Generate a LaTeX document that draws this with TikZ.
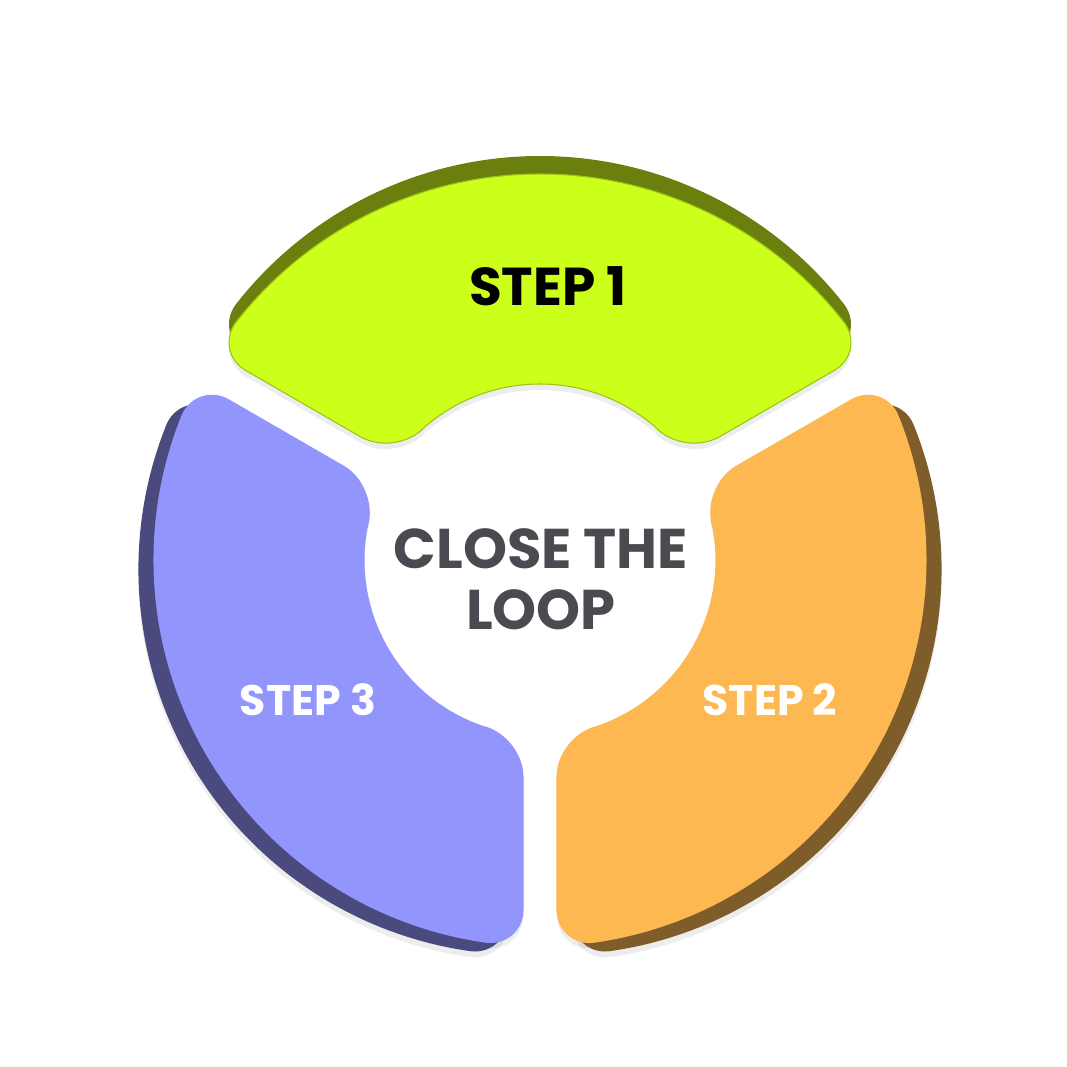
\documentclass[tikz,border=0pt]{standalone}
\usepackage{fontspec}
\setmainfont{Poppins}
\usetikzlibrary{calc}
\definecolor{limeF}{HTML}{CCFF1A}
\definecolor{limeD}{HTML}{6B7F0E}
\definecolor{limeE}{HTML}{9CC414}
\definecolor{orgF}{HTML}{FDB851}
\definecolor{orgD}{HTML}{7F5D2B}
\definecolor{purF}{HTML}{9195FC}
\definecolor{purD}{HTML}{4A4A7E}
\definecolor{txt}{HTML}{4A4B50}
\tikzset{
  softshadow/.style={fill=black, opacity=0.07},
  steplabel/.style={font=\bfseries\fontsize{32}{32}\selectfont, text=white},
  centerlabel/.style={font=\bfseries\fontsize{42}{46}\selectfont, text=txt, align=center}
}
% #1 mid angle, #2 shift, #3 path options
\newcommand\segshape[3]{%
  \begin{scope}[shift={#2}]
    \coordinate (A) at ({#1+57.48}:386);
    \coordinate (B) at ({#1-57.48}:386);
    \coordinate (C) at ({#1+54.46}:176);
    \coordinate (D) at ({#1-54.46}:176);
    \coordinate (A1) at ({#1+57.48-5.34}:386);
    \coordinate (A2) at ($(A)!27pt!(C)$);
    \coordinate (C1) at ($(C)!31.5pt!(A)$);
    \coordinate (C2) at ({#1+54.46-13.67}:176);
    \coordinate (D1) at ({#1-54.46+13.67}:176);
    \coordinate (D2) at ($(D)!31.5pt!(B)$);
    \coordinate (B1) at ($(B)!27pt!(D)$);
    \coordinate (B2) at ({#1-57.48+5.34}:386);
    \path[#3] (#1:386) arc[start angle=#1, end angle={#1+57.48-5.34}, radius=386]
      .. controls ($(A1)!0.55!(A)$) and ($(A2)!0.55!(A)$) .. (A2) -- (C1)
      .. controls ($(C1)!0.55!(C)$) and ($(C2)!0.55!(C)$) .. (C2)
      arc[start angle={#1+54.46-13.67}, end angle={#1-54.46+13.67}, radius=176]
      .. controls ($(D1)!0.55!(D)$) and ($(D2)!0.55!(D)$) .. (D2) -- (B1)
      .. controls ($(B1)!0.55!(B)$) and ($(B2)!0.55!(B)$) .. (B2)
      arc[start angle={#1-57.48+5.34}, end angle=#1, radius=386] -- cycle;
  \end{scope}}
\begin{document}
\begin{tikzpicture}[x=0.75pt,y=0.75pt]
\useasboundingbox (-540,-507) rectangle (527,560);
\fill[white] (-540,-507) rectangle (527,560);
\foreach \m/\f/\d/\e in {90/limeF/limeD/limeE, 330/orgF/orgD/orgF, 210/purF/purD/purF}{
  \segshape{\m}{($(\m:18)+(0,-6)$)}{softshadow}
  \segshape{\m}{(0,-6)}{softshadow}
  \segshape{\m}{(\m:18)}{fill=\d}
  \segshape{\m}{(0,0)}{fill=\f, draw=\e, line width=0.8pt}
}
\node[steplabel, text=black, font=\bfseries\fontsize{40}{40}\selectfont] (s1) at (8,274) {STEP 1};
\node[steplabel] (s2) at (230,-140) {STEP 2};
\node[steplabel] (s3) at (-232,-140) {STEP 3};
\node[centerlabel] (c) at (1,-19) {CLOSE THE\\LOOP};
\end{tikzpicture}
\end{document}
